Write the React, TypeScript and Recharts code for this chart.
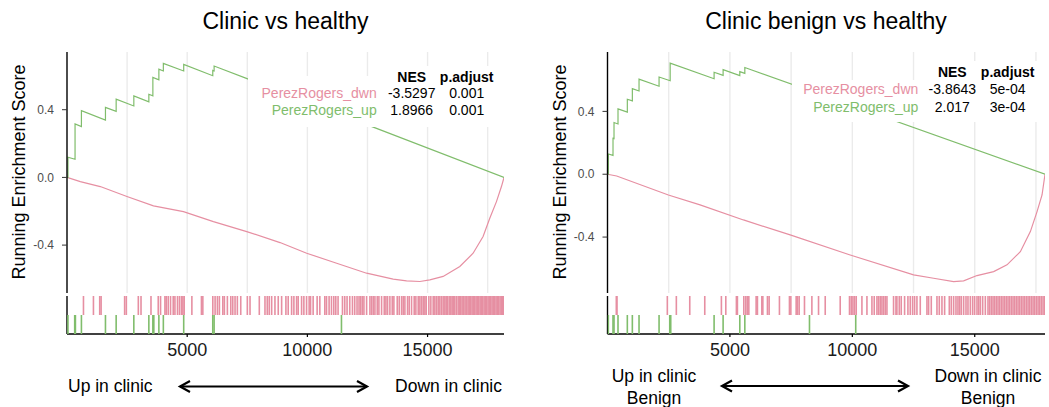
import React from 'react';
import { ComposedChart, Line, Scatter, XAxis, YAxis, CartesianGrid } from 'recharts';

type Pt = [number, number];

const FONT = '"Liberation Sans", Arial, Helvetica, sans-serif';
const PINK = '#E68FA2';
const GREEN = '#80BD6C';

// shared axis values
const rankTicks = [5000, 10000, 15000];
const gridRanks = [2500, 5000, 7500, 10000, 12500, 15000, 17500];
const esTicks = [-0.4, 0, 0.4];
const setNames = ['PerezRogers_dwn', 'PerezRogers_up'];

// ---------- Clinic vs healthy ----------
const clinicListSize = 18180;
const clinicNES = ['-3.5297', '1.8966'];
const clinicPadj = ['0.001', '0.001'];
const clinicDwnCurve: Pt[] = [
  [0, 0], [553, -0.025], [1384, -0.054], [2493, -0.113], [3598, -0.168], [4845, -0.202],
  [6091, -0.261], [7479, -0.32], [8862, -0.385], [9972, -0.448], [11218, -0.507],
  [12465, -0.566], [13570, -0.601], [14127, -0.611], [14680, -0.615], [15095, -0.605],
  [15648, -0.585], [16342, -0.526], [16895, -0.448], [17310, -0.349], [17588, -0.241],
  [17866, -0.143], [18074, -0.054], [18180, 0],
];
const clinicUpCurve: Pt[] = [
  [0, 0], [40, 0], [40, 0.119], [335, 0.107], [335, 0.316], [600, 0.3], [600, 0.394],
  [1600, 0.339], [1600, 0.414], [2045, 0.39], [2045, 0.462], [2780, 0.422], [2780, 0.481],
  [3405, 0.446], [3405, 0.491], [3572, 0.482], [3572, 0.591], [3822, 0.577], [3822, 0.64],
  [4008, 0.629], [4008, 0.674], [4855, 0.629], [4855, 0.668], [6064, 0.601], [6064, 0.632],
  [6120, 0.629], [6120, 0.658], [7545, 0.581], [18180, 0],
];
const clinicUpHits = [40, 320, 350, 600, 1600, 2045, 2780, 3405, 3572, 3612, 3822, 4008, 4855, 6064, 6120, 11418];
const clinicDwnHits = [
  685, 1100, 1361, 1419, 2398, 2469, 2967, 3079, 3494, 3796, 3892, 4074, 4128, 4211, 4307,
  4419, 4490, 4597, 4680, 4763, 4821, 4875, 5195, 5593, 5651, 6066, 6161, 6257, 6340, 6481,
  6547, 6672, 6813, 6896, 6991, 7087, 7228, 7502, 7614, 8000, 8236, 8331, 8414, 8514, 8651,
  8788, 8929, 9107, 9203, 9344, 9439, 9551, 9618, 9759, 9854, 9966, 10074, 10132, 10240,
  10406, 10518, 10725, 10796, 10904, 11003, 11099, 11182, 11277, 11460, 11555, 11651, 11763,
  11875, 11970, 12066, 12149, 12214, 12284, 12353, 12464, 12602, 12672, 12741, 12810, 12907,
  12976, 13087, 13198, 13267, 13336, 13433, 13530, 13599, 13738, 13821, 13918, 13987, 14057,
  14167, 14237, 14334, 14444, 14514, 14611, 14680, 14749, 14818, 14888, 14943, 15054, 15137,
  15234, 15303, 15372, 15442, 15511, 15580, 15649, 15719, 15774, 15829, 15899, 15968, 16023,
  16079, 16134, 16203, 16273, 16328, 16383, 16439, 16508, 16563, 16633, 16688, 16743, 16799,
  16854, 16910, 16965, 17020, 17076, 17131, 17187, 17242, 17297, 17353, 17408, 17464, 17519,
  17574, 17630, 17685, 17741, 17796, 17851, 17907, 17962, 18018, 18073, 18128, 18170,
];

// ---------- Clinic benign vs healthy ----------
const benignListSize = 17870;
const benignNES = ['-3.8643', '2.017'];
const benignPadj = ['5e-04', '3e-04'];
const benignDwnCurve: Pt[] = [
  [0, 0], [375, -0.011], [2487, -0.132], [3781, -0.195], [5553, -0.291], [7461, -0.386],
  [9913, -0.514], [12502, -0.641], [13320, -0.662], [14137, -0.684], [14546, -0.679],
  [15092, -0.645], [15773, -0.62], [16318, -0.577], [16863, -0.493], [17272, -0.365],
  [17545, -0.238], [17749, -0.132], [17870, 0],
];
const benignUpCurve: Pt[] = [
  [0, 0], [34, 0], [34, 0.129], [225, 0.12], [225, 0.229], [266, 0.227], [266, 0.329],
  [429, 0.32], [429, 0.416], [810, 0.395], [810, 0.477], [1015, 0.467], [1015, 0.545],
  [1288, 0.53], [1288, 0.605], [2106, 0.56], [2106, 0.619], [2560, 0.595], [2560, 0.707],
  [4354, 0.608], [4354, 0.649], [4722, 0.629], [4722, 0.666], [5404, 0.628], [5404, 0.653],
  [5609, 0.642], [5609, 0.679], [17870, 0],
];
const benignUpHits = [34, 225, 266, 429, 810, 1015, 1288, 2106, 2542, 2583, 4354, 4722, 5404, 5609, 8250, 10139];
const benignDwnHits = [
  360, 388, 2444, 2812, 3360, 3973, 4652, 4832, 5265, 5306, 5568, 5650, 5715, 5773, 6071,
  6124, 6304, 6345, 6533, 6602, 7023, 7432, 7489, 7706, 7760, 7829, 8046, 8348, 8620, 8893,
  9505, 9885, 9955, 10024, 10090, 10159, 10392, 10597, 10801, 10895, 11005, 11071, 11140,
  11209, 11275, 11344, 11414, 11684, 11782, 11821, 11917, 11998, 12135, 12271, 12366, 12462,
  12544, 12639, 12775, 13048, 13116, 13225, 13457, 13552, 13661, 13770, 13961, 14043, 14138,
  14234, 14315, 14384, 14452, 14547, 14643, 14724, 14820, 14915, 14997, 15092, 15161, 15229,
  15324, 15433, 15542, 15610, 15679, 15747, 15815, 15883, 15951, 16019, 16087, 16155, 16224,
  16292, 16360, 16428, 16496, 16564, 16633, 16701, 16769, 16837, 16905, 16973, 17041, 17110,
  17178, 17246, 17314, 17382, 17450, 17519, 17587, 17655, 17723, 17791, 17859,
];

const toRows = (pts: Pt[]) => pts.map(([rank, es]) => ({ rank, es }));
// hit rows: the down set sits in the upper band (1..2), the up set in the lower band (0..1)
const toHits = (ranks: number[], band: number) => ranks.map((rank) => ({ rank, band }));

// one rug tick spanning a full band (a band is 19px tall)
const rugTick = (color: string) => (props: any) => {
  const { cx, cy } = props;
  if (cx == null || cy == null) return <g />;
  return <line x1={cx} x2={cx} y1={cy - 9.5} y2={cy + 9.5} stroke={color} strokeWidth={1.6} />;
};

interface PanelProps {
  x: number;
  width: number;
  mLeft: number;
  mRight: number;
  listSize: number;
  esDomain: [number, number];
  dwnCurve: Pt[];
  upCurve: Pt[];
  dwnHits: number[];
  upHits: number[];
}

function GseaPanel(p: PanelProps) {
  const axisLine = { stroke: '#000', strokeWidth: 1.4 };
  return (
    <>
      <div style={{ position: 'absolute', left: p.x, top: 0 }}>
        <ComposedChart width={p.width} height={300} margin={{ top: 52, right: p.mRight, bottom: 7, left: p.mLeft }}>
          <CartesianGrid horizontal={false} verticalValues={gridRanks} stroke="#EBEBEB" strokeWidth={1.4} />
          <XAxis type="number" dataKey="rank" domain={[0, p.listSize]} allowDataOverflow hide />
          <YAxis
            type="number"
            domain={p.esDomain}
            allowDataOverflow
            ticks={esTicks}
            width={60}
            tickFormatter={(v: number) => v.toFixed(1)}
            tick={{ fill: '#4D4D4D', fontSize: 12, fontFamily: FONT }}
            tickLine={{ stroke: '#333', strokeWidth: 1 }}
            tickSize={5}
            tickMargin={8}
            axisLine={axisLine}
          />
          <Line data={toRows(p.dwnCurve)} dataKey="es" type="linear" stroke={PINK} strokeWidth={1.2} dot={false} isAnimationActive={false} />
          <Line data={toRows(p.upCurve)} dataKey="es" type="linear" stroke={GREEN} strokeWidth={1.2} dot={false} isAnimationActive={false} />
        </ComposedChart>
      </div>
      <div style={{ position: 'absolute', left: p.x, top: 290 }}>
        <ComposedChart width={p.width} height={80} margin={{ top: 6, right: p.mRight, bottom: 6, left: p.mLeft }}>
          <XAxis
            type="number"
            dataKey="rank"
            domain={[0, p.listSize]}
            allowDataOverflow
            ticks={rankTicks}
            height={30}
            tick={{ fill: '#1A1A1A', fontSize: 18, fontFamily: FONT }}
            tickLine={{ stroke: '#000', strokeWidth: 1.2 }}
            tickSize={3}
            tickMargin={6}
            axisLine={axisLine}
          />
          <YAxis type="number" dataKey="band" domain={[0, 2]} allowDataOverflow width={60} tick={false} tickLine={false} axisLine={axisLine} />
          <Scatter data={toHits(p.dwnHits, 1.5)} shape={rugTick(PINK)} isAnimationActive={false} />
          <Scatter data={toHits(p.upHits, 0.5)} shape={rugTick(GREEN)} isAnimationActive={false} />
        </ComposedChart>
      </div>
    </>
  );
}

function Arrow({ x1, x2, y }: { x1: number; x2: number; y: number }) {
  return (
    <g stroke="#000" strokeWidth={2.2} fill="none">
      <line x1={x1} y1={y} x2={x2} y2={y} />
      <polyline points={`${x1 + 10},${y - 5.5} ${x1},${y} ${x1 + 10},${y + 5.5}`} />
      <polyline points={`${x2 - 10},${y - 5.5} ${x2},${y} ${x2 - 10},${y + 5.5}`} />
    </g>
  );
}

function StatsTable(t: {
  nameRight: number; nesX: number; padjX: number; headY: number; rowY: number[];
  nes: string[]; padj: string[];
}) {
  return (
    <g fontFamily={FONT} fontSize={14}>
      <text x={t.nesX} y={t.headY} textAnchor="middle" fontWeight="bold" fill="#000">NES</text>
      <text x={t.padjX} y={t.headY} textAnchor="middle" fontWeight="bold" fill="#000">p.adjust</text>
      {setNames.map((n, i) => (
        <g key={n}>
          <text x={t.nameRight} y={t.rowY[i]} textAnchor="end" fill={i === 0 ? PINK : GREEN}>{n}</text>
          <text x={t.nesX} y={t.rowY[i]} textAnchor="middle" fill="#000">{t.nes[i]}</text>
          <text x={t.padjX} y={t.rowY[i]} textAnchor="middle" fill="#000">{t.padj[i]}</text>
        </g>
      ))}
    </g>
  );
}

export default function App() {
  return (
    <div style={{ position: 'absolute', left: 0, top: 0, width: 1049, height: 407, background: '#fff', overflow: 'hidden' }}>
      <GseaPanel x={0} width={510} mLeft={7} mRight={6} listSize={clinicListSize} esDomain={[-0.683, 0.741]}
        dwnCurve={clinicDwnCurve} upCurve={clinicUpCurve} dwnHits={clinicDwnHits} upHits={clinicUpHits} />
      <GseaPanel x={540} width={509} mLeft={7.5} mRight={4} listSize={benignListSize} esDomain={[-0.756, 0.778]}
        dwnCurve={benignDwnCurve} upCurve={benignUpCurve} dwnHits={benignDwnHits} upHits={benignUpHits} />
      <svg width={1049} height={407} style={{ position: 'absolute', left: 0, top: 0, pointerEvents: 'none' }}>
        {/* table backgrounds */}
        <rect x={248} y={76} width={257} height={51} fill="#fff" />
        <rect x={383} y={66} width={122} height={10} fill="#fff" />
        <rect x={792} y={80} width={254} height={42} fill="#fff" />
        <rect x={925} y={61} width={121} height={19} fill="#fff" />

        <g fontFamily={FONT} fill="#000">
          <text x={285.5} y={28.5} fontSize={23} textAnchor="middle">Clinic vs healthy</text>
          <text x={826} y={28.5} fontSize={23} textAnchor="middle">Clinic benign vs healthy</text>
          <text transform="translate(19,172) rotate(-90)" fontSize={18} textAnchor="middle" dominantBaseline="central">Running Enrichment Score</text>
          <text transform="translate(560,172) rotate(-90)" fontSize={18} textAnchor="middle" dominantBaseline="central">Running Enrichment Score</text>

          <text x={68} y={391.5} fontSize={17.5}>Up in clinic</text>
          <text x={502} y={391.5} fontSize={17.5} textAnchor="end">Down in clinic</text>
          <text x={654} y={381.5} fontSize={17.5} textAnchor="middle">Up in clinic</text>
          <text x={654} y={404} fontSize={17.5} textAnchor="middle">Benign</text>
          <text x={988} y={381.5} fontSize={17.5} textAnchor="middle">Down in clinic</text>
          <text x={988} y={404} fontSize={17.5} textAnchor="middle">Benign</text>
        </g>
        <Arrow x1={180} x2={367} y={386.5} />
        <Arrow x1={722} x2={908} y={386} />

        <StatsTable nameRight={376.7} nesX={411.7} padjX={466.7} headY={82.3} rowY={[98.3, 115]} nes={clinicNES} padj={clinicPadj} />
        <StatsTable nameRight={918.3} nesX={952.3} padjX={1007.7} headY={76.7} rowY={[94.3, 111.7]} nes={benignNES} padj={benignPadj} />
      </svg>
    </div>
  );
}
